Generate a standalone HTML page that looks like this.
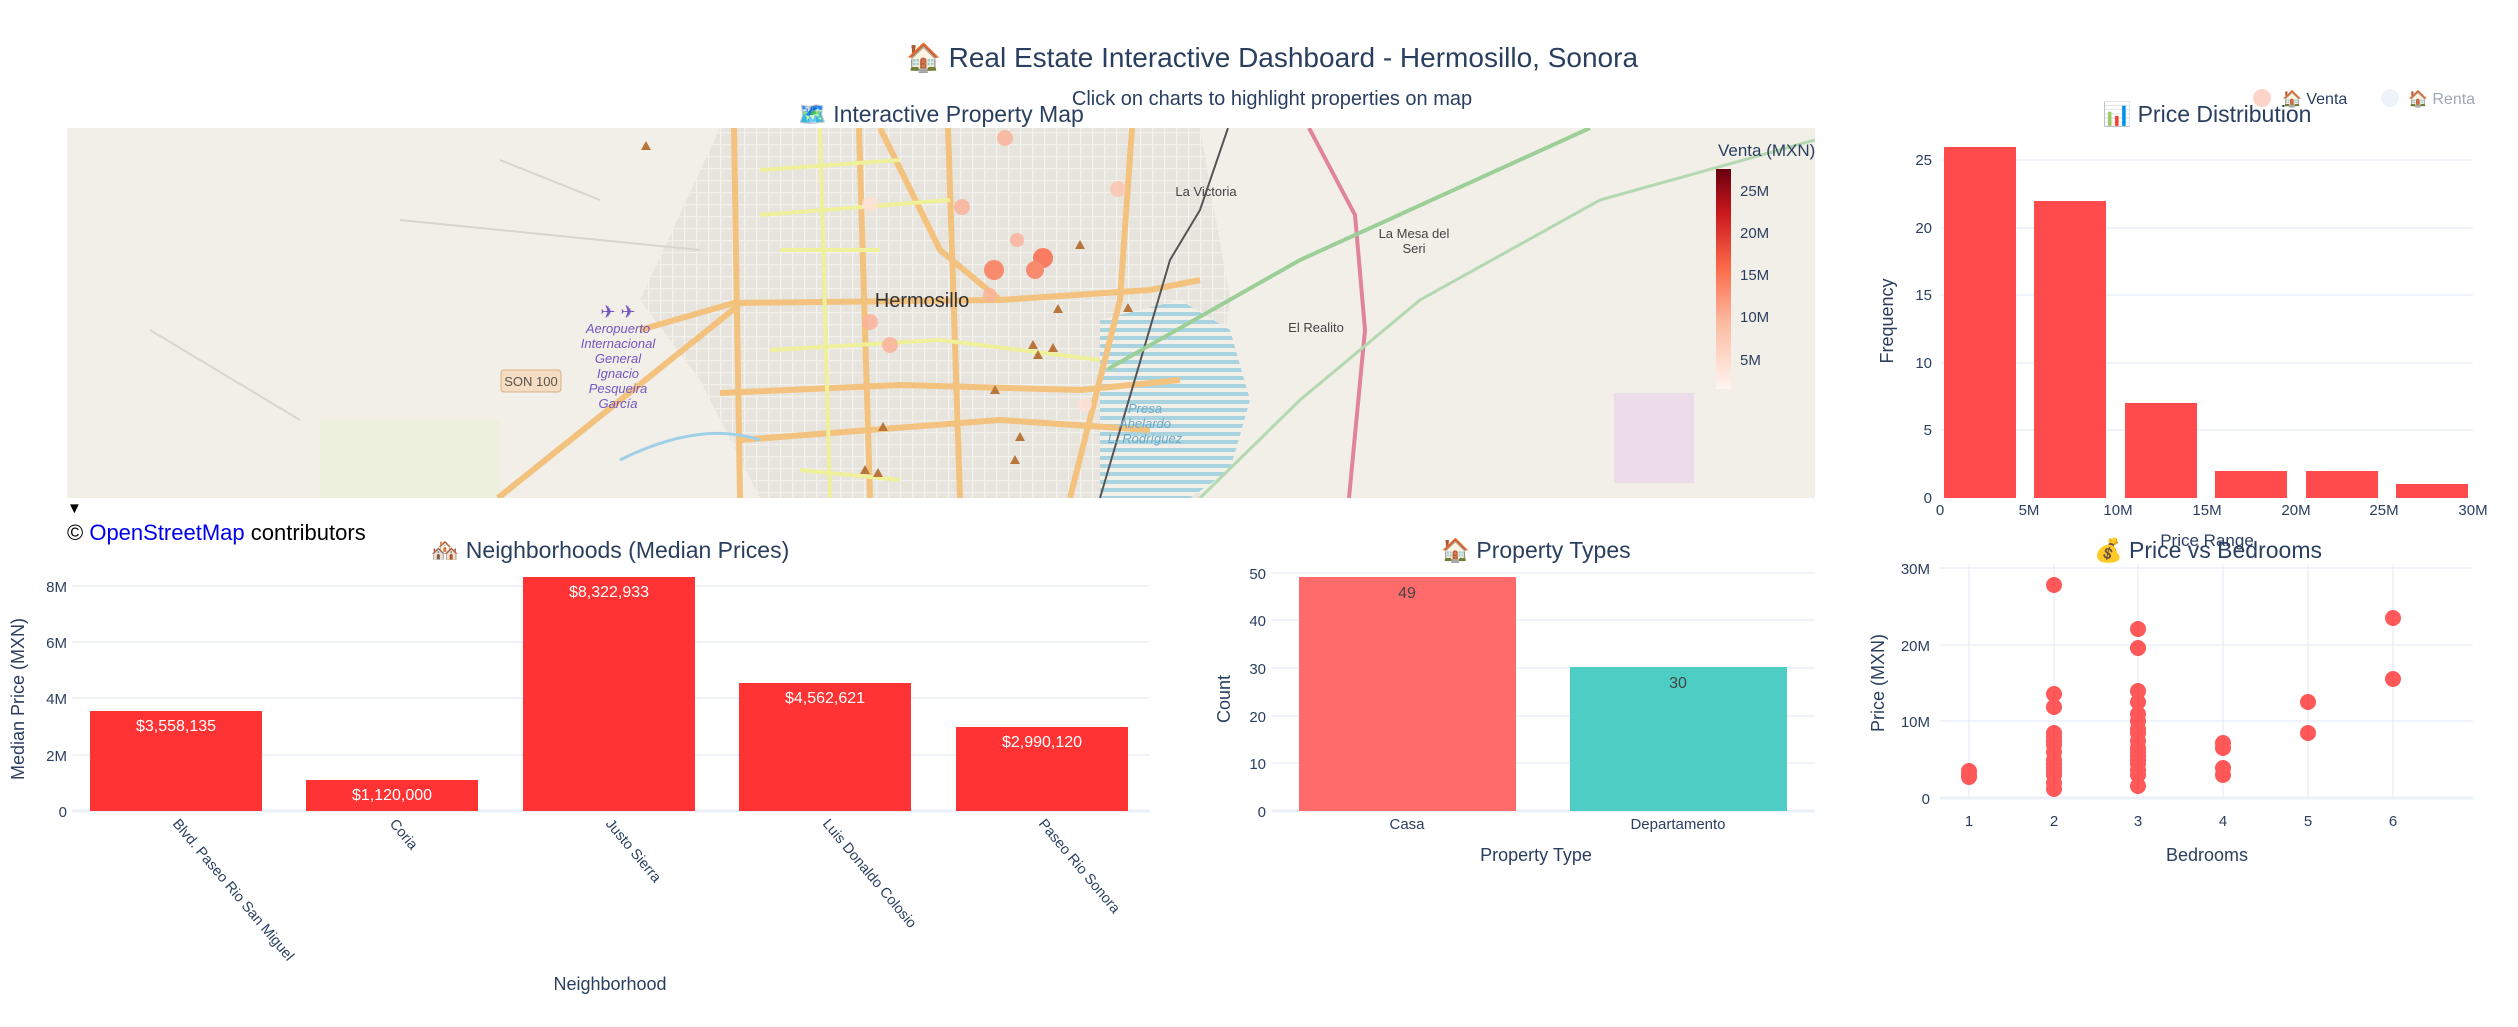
<!DOCTYPE html>
<html><head><meta charset="utf-8"><style>
html,body{margin:0;padding:0;background:#fff;}
svg{display:block;font-family:"Liberation Sans","DejaVu Sans",sans-serif;}
</style></head><body>
<svg width="2518" height="1027" viewBox="0 0 2518 1027" xmlns="http://www.w3.org/2000/svg">
<rect width="2518" height="1027" fill="#fff"/>
<!-- Titles -->
<text x="1272" y="67" font-size="28" fill="#2a3f5f" text-anchor="middle">🏠 Real Estate Interactive Dashboard - Hermosillo, Sonora</text>
<text x="1272" y="105" font-size="20" fill="#2a3f5f" text-anchor="middle">Click on charts to highlight properties on map</text>
<text x="941" y="122" font-size="23" fill="#2a3f5f" text-anchor="middle">🗺️ Interactive Property Map</text>
<text x="2207" y="122" font-size="23" fill="#2a3f5f" text-anchor="middle">📊 Price Distribution</text>
<!-- Legend -->
<circle cx="2262" cy="98" r="9" fill="#fcd5c8"/>
<text x="2282" y="104" font-size="16" fill="#2a3f5f">🏠 Venta</text>
<circle cx="2390" cy="98" r="9" fill="#eef3f9"/>
<text x="2408" y="104" font-size="16" fill="#a0a8b4">🏠 Renta</text>

<!-- MAP -->
<defs><clipPath id="mc"><rect x="67" y="128" width="1748" height="370"/></clipPath>
<pattern id="hatch" width="12" height="8" patternUnits="userSpaceOnUse"><rect width="12" height="8" fill="#f2efe9"/><rect width="12" height="4" fill="#a9d3df"/></pattern>
<pattern id="grid" width="12" height="12" patternUnits="userSpaceOnUse"><rect width="12" height="12" fill="#e0dcd6"/><path d="M0 0H12M0 0V12" stroke="#f4f2ee" stroke-width="2.5"/></pattern>
<linearGradient id="cb" x1="0" y1="1" x2="0" y2="0"><stop offset="0" stop-color="#fff5f0"/><stop offset="0.3" stop-color="#fcbba1"/><stop offset="0.55" stop-color="#fb6a4a"/><stop offset="0.8" stop-color="#cb181d"/><stop offset="1" stop-color="#67000d"/></linearGradient></defs>
<g clip-path="url(#mc)">
<rect x="67" y="128" width="1748" height="370" fill="#f2efe9"/>
<path d="M720 128 L1200 128 L1230 300 L1200 498 L760 498 L700 380 L640 300 Z" fill="url(#grid)" opacity="0.6"/>
<path d="M1100 320 L1180 300 L1230 330 L1250 400 L1230 470 L1190 498 L1100 498 Z" fill="url(#hatch)"/>
<rect x="1614" y="393" width="80" height="90" fill="#ecdce9"/>
<rect x="320" y="420" width="180" height="78" fill="#ecf1d8" opacity="0.7"/>
<!-- roads -->
<g stroke="#f3c27e" stroke-width="6" fill="none">
<path d="M734 128 L740 498"/><path d="M859 128 L870 498"/><path d="M948 128 L960 498"/><path d="M1132 128 L1120 300 L1070 498"/>
<path d="M640 330 L734 303 L1000 300 L1150 290 L1200 280"/>
<path d="M720 393 L900 385 L1080 390 L1180 380"/>
<path d="M740 440 L1000 420 L1150 430"/>
<path d="M498 498 L739 305"/>
<path d="M880 128 L940 250 L1000 300"/>
</g>
<g stroke="#eef09a" stroke-width="4" fill="none">
<path d="M760 170 L900 160"/><path d="M760 215 L950 200"/><path d="M780 250 L880 250"/><path d="M770 350 L940 340 L1100 360"/><path d="M800 470 L900 480"/><path d="M820 128 L830 498"/>
</g>
<path d="M1228 128 L1200 210 L1170 260 L1100 498" stroke="#555" stroke-width="2" fill="none"/>
<path d="M1309 128 L1355 215 L1365 330 L1349 498" stroke="#e0849a" stroke-width="4" fill="none"/>
<path d="M1108 369 L1300 260 L1590 128" stroke="#9ccf98" stroke-width="4" fill="none"/>
<path d="M1200 498 L1300 400 L1420 300 L1600 200 L1815 140" stroke="#b4d8b0" stroke-width="3" fill="none"/>
<path d="M400 220 L700 250 M150 330 L300 420 M500 160 L600 200" stroke="#d9d4cc" stroke-width="2" fill="none"/>
<path d="M620 460 Q700 420 760 440" stroke="#9fd0e8" stroke-width="3" fill="none"/>
<!-- labels -->
<text x="922" y="307" font-size="20" fill="#333" text-anchor="middle">Hermosillo</text>
<text x="1206" y="196" font-size="13" fill="#444" text-anchor="middle">La Victoria</text>
<text x="1414" y="238" font-size="13" fill="#444" text-anchor="middle">La Mesa del</text>
<text x="1414" y="253" font-size="13" fill="#444" text-anchor="middle">Seri</text>
<text x="1316" y="332" font-size="13" fill="#444" text-anchor="middle">El Realito</text>
<rect x="501" y="370" width="60" height="22" rx="3" fill="#f6dcc0" stroke="#d8b08a"/>
<text x="531" y="386" font-size="13" fill="#555" text-anchor="middle">SON 100</text>
<g font-size="13" fill="#7455c0" font-style="italic" text-anchor="middle">
<text x="618" y="333">Aeropuerto</text><text x="618" y="348">Internacional</text><text x="618" y="363">General</text><text x="618" y="378">Ignacio</text><text x="618" y="393">Pesqueira</text><text x="618" y="408">García</text>
<text x="1145" y="413" fill="#6aaac8">Presa</text><text x="1145" y="428" fill="#6aaac8">Abelardo</text><text x="1145" y="443" fill="#6aaac8">L. Rodríguez</text>
</g>
<text x="618" y="318" font-size="18" fill="#7455c0" text-anchor="middle">✈ ✈</text>
<!-- markers -->
<g fill="#fbb39a" opacity="0.85">
<circle cx="1005" cy="138" r="8"/><circle cx="1118" cy="189" r="8" fill="#fcc5b0"/><circle cx="870" cy="204" r="8" fill="#fde0d5"/><circle cx="962" cy="207" r="8"/>
<circle cx="1017" cy="240" r="7"/><circle cx="994" cy="270" r="10" fill="#fb7b5b"/><circle cx="1043" cy="258" r="10" fill="#fb6a4a"/><circle cx="1035" cy="270" r="9" fill="#fb7b5b"/>
<circle cx="870" cy="322" r="8"/><circle cx="890" cy="345" r="8"/><circle cx="1085" cy="405" r="7" fill="#fde0d5"/><circle cx="990" cy="295" r="7"/>
</g>
<g fill="#b8763a">
<path d="M646 141 l5 9 h-10z"/><path d="M1080 240 l5 9 h-10z"/><path d="M1058 304 l5 9 h-10z"/><path d="M1128 303 l5 9 h-10z"/><path d="M1033 340 l5 9 h-10z"/><path d="M1053 343 l5 9 h-10z"/><path d="M1038 350 l5 9 h-10z"/><path d="M995 385 l5 9 h-10z"/><path d="M1020 432 l5 9 h-10z"/><path d="M883 422 l5 9 h-10z"/><path d="M865 465 l5 9 h-10z"/><path d="M878 468 l5 9 h-10z"/><path d="M1015 455 l5 9 h-10z"/>
</g>
</g>
<!-- colorbar -->
<text x="1718" y="156" font-size="17" fill="#2a3f5f">Venta (MXN)</text>
<rect x="1716" y="169" width="15" height="220" fill="url(#cb)"/>
<g font-size="15" fill="#2a3f5f"><text x="1740" y="196">25M</text><text x="1740" y="238">20M</text><text x="1740" y="280">15M</text><text x="1740" y="322">10M</text><text x="1740" y="365">5M</text></g>
<text x="67" y="513" font-size="15" fill="#000">▼</text>
<text x="67" y="540" font-size="22" fill="#000">© <tspan fill="#0000ee">OpenStreetMap</tspan> contributors</text>

<!-- PRICE DISTRIBUTION -->
<g stroke="#ebf0f8" stroke-width="1.5"><line x1="1940" x2="2473" y1="160" y2="160"/><line x1="1940" x2="2473" y1="228" y2="228"/><line x1="1940" x2="2473" y1="295" y2="295"/><line x1="1940" x2="2473" y1="363" y2="363"/><line x1="1940" x2="2473" y1="430" y2="430"/></g>
<g fill="#ff4b4b">
<rect x="1944" y="147" width="72" height="351"/><rect x="2034" y="201" width="72" height="297"/><rect x="2125" y="403" width="72" height="95"/><rect x="2215" y="471" width="72" height="27"/><rect x="2306" y="471" width="72" height="27"/><rect x="2396" y="484" width="72" height="14"/>
</g>
<g font-size="15" fill="#2a3f5f" text-anchor="end"><text x="1932" y="165">25</text><text x="1932" y="233">20</text><text x="1932" y="300">15</text><text x="1932" y="368">10</text><text x="1932" y="435">5</text><text x="1932" y="503">0</text></g>
<g font-size="15" fill="#2a3f5f" text-anchor="middle"><text x="1940" y="515">0</text><text x="2029" y="515">5M</text><text x="2118" y="515">10M</text><text x="2207" y="515">15M</text><text x="2296" y="515">20M</text><text x="2384" y="515">25M</text><text x="2473" y="515">30M</text></g>
<text x="1893" y="321" font-size="18" fill="#2a3f5f" text-anchor="middle" transform="rotate(-90 1893 321)">Frequency</text>
<text x="2207" y="546" font-size="17" fill="#2a3f5f" text-anchor="middle">Price Range</text>

<!-- NEIGHBORHOODS -->
<text x="610" y="558" font-size="23" fill="#2a3f5f" text-anchor="middle">🏘️ Neighborhoods (Median Prices)</text>
<g stroke="#ebf0f8" stroke-width="1.5"><line x1="72" x2="1150" y1="586" y2="586"/><line x1="72" x2="1150" y1="642" y2="642"/><line x1="72" x2="1150" y1="698" y2="698"/><line x1="72" x2="1150" y1="755" y2="755"/><line x1="72" x2="1150" y1="811" y2="811" stroke-width="3"/></g>
<g fill="#ff3333">
<rect x="90" y="711" width="172" height="100"/><rect x="306" y="780" width="172" height="31"/><rect x="523" y="577" width="172" height="234"/><rect x="739" y="683" width="172" height="128"/><rect x="956" y="727" width="172" height="84"/>
</g>
<g font-size="16" fill="#fff" text-anchor="middle"><text x="176" y="731">$3,558,135</text><text x="392" y="800">$1,120,000</text><text x="609" y="597">$8,322,933</text><text x="825" y="703">$4,562,621</text><text x="1042" y="747">$2,990,120</text></g>
<g font-size="15" fill="#2a3f5f" text-anchor="end"><text x="67" y="592">8M</text><text x="67" y="648">6M</text><text x="67" y="704">4M</text><text x="67" y="761">2M</text><text x="67" y="817">0</text></g>
<g font-size="14.5" fill="#2a3f5f">
<text transform="translate(172 824) rotate(50)">Blvd. Paseo Rio San Miguel</text>
<text transform="translate(389 824) rotate(50)">Coria</text>
<text transform="translate(605 824) rotate(50)">Justo Sierra</text>
<text transform="translate(822 824) rotate(50)">Luis Donaldo Colosio</text>
<text transform="translate(1038 824) rotate(50)">Paseo Rio Sonora</text>
</g>
<text x="24" y="699" font-size="18" fill="#2a3f5f" text-anchor="middle" transform="rotate(-90 24 699)">Median Price (MXN)</text>
<text x="610" y="990" font-size="18" fill="#2a3f5f" text-anchor="middle">Neighborhood</text>

<!-- PROPERTY TYPES -->
<text x="1536" y="558" font-size="23" fill="#2a3f5f" text-anchor="middle">🏠 Property Types</text>
<g stroke="#ebf0f8" stroke-width="1.5"><line x1="1272" x2="1815" y1="573" y2="573"/><line x1="1272" x2="1815" y1="620" y2="620"/><line x1="1272" x2="1815" y1="668" y2="668"/><line x1="1272" x2="1815" y1="716" y2="716"/><line x1="1272" x2="1815" y1="763" y2="763"/><line x1="1272" x2="1815" y1="811" y2="811" stroke-width="3"/></g>
<rect x="1299" y="577" width="217" height="234" fill="#ff6b6b"/>
<rect x="1570" y="667" width="217" height="144" fill="#4ecdc4"/>
<text x="1407" y="598" font-size="16" fill="#444" text-anchor="middle">49</text>
<text x="1678" y="688" font-size="16" fill="#444" text-anchor="middle">30</text>
<g font-size="15" fill="#2a3f5f" text-anchor="end"><text x="1266" y="579">50</text><text x="1266" y="626">40</text><text x="1266" y="674">30</text><text x="1266" y="722">20</text><text x="1266" y="769">10</text><text x="1266" y="817">0</text></g>
<g font-size="15" fill="#2a3f5f" text-anchor="middle"><text x="1407" y="829">Casa</text><text x="1678" y="829">Departamento</text></g>
<text x="1230" y="699" font-size="18" fill="#2a3f5f" text-anchor="middle" transform="rotate(-90 1230 699)">Count</text>
<text x="1536" y="861" font-size="18" fill="#2a3f5f" text-anchor="middle">Property Type</text>

<!-- SCATTER -->
<text x="2208" y="558" font-size="23" fill="#2a3f5f" text-anchor="middle">💰 Price vs Bedrooms</text>
<g stroke="#ebf0f8" stroke-width="1.5"><line x1="1940" x2="2473" y1="568" y2="568"/><line x1="1940" x2="2473" y1="645" y2="645"/><line x1="1940" x2="2473" y1="721" y2="721"/>
<line x1="1969" x2="1969" y1="565" y2="798"/><line x1="2054" x2="2054" y1="565" y2="798"/><line x1="2138" x2="2138" y1="565" y2="798"/><line x1="2223" x2="2223" y1="565" y2="798"/><line x1="2308" x2="2308" y1="565" y2="798"/><line x1="2393" x2="2393" y1="565" y2="798"/>
<line x1="1940" x2="2473" y1="798" y2="798" stroke-width="3"/></g>
<g fill="#ff0000" opacity="0.65">
<circle cx="1969" cy="775" r="8"/><circle cx="1969" cy="771" r="8"/><circle cx="1969" cy="777" r="8"/>
<circle cx="2054" cy="585" r="8"/><circle cx="2054" cy="694" r="8"/><circle cx="2054" cy="707" r="8"/><circle cx="2054" cy="733" r="8"/><circle cx="2054" cy="737" r="8"/><circle cx="2054" cy="741" r="8"/><circle cx="2054" cy="745" r="8"/><circle cx="2054" cy="752" r="8"/><circle cx="2054" cy="760" r="8"/><circle cx="2054" cy="764" r="8"/><circle cx="2054" cy="768" r="8"/><circle cx="2054" cy="771" r="8"/><circle cx="2054" cy="775" r="8"/><circle cx="2054" cy="783" r="8"/><circle cx="2054" cy="789" r="8"/>
<circle cx="2138" cy="629" r="8"/><circle cx="2138" cy="648" r="8"/><circle cx="2138" cy="691" r="8"/><circle cx="2138" cy="702" r="8"/><circle cx="2138" cy="714" r="8"/><circle cx="2138" cy="721" r="8"/><circle cx="2138" cy="729" r="8"/><circle cx="2138" cy="733" r="8"/><circle cx="2138" cy="741" r="8"/><circle cx="2138" cy="748" r="8"/><circle cx="2138" cy="752" r="8"/><circle cx="2138" cy="756" r="8"/><circle cx="2138" cy="760" r="8"/><circle cx="2138" cy="764" r="8"/><circle cx="2138" cy="770" r="8"/><circle cx="2138" cy="775" r="8"/><circle cx="2138" cy="786" r="8"/>
<circle cx="2223" cy="743" r="8"/><circle cx="2223" cy="748" r="8"/><circle cx="2223" cy="768" r="8"/><circle cx="2223" cy="775" r="8"/>
<circle cx="2308" cy="702" r="8"/><circle cx="2308" cy="733" r="8"/>
<circle cx="2393" cy="618" r="8"/><circle cx="2393" cy="679" r="8"/>
</g>
<g font-size="15" fill="#2a3f5f" text-anchor="end"><text x="1930" y="574">30M</text><text x="1930" y="651">20M</text><text x="1930" y="727">10M</text><text x="1930" y="804">0</text></g>
<g font-size="15" fill="#2a3f5f" text-anchor="middle"><text x="1969" y="826">1</text><text x="2054" y="826">2</text><text x="2138" y="826">3</text><text x="2223" y="826">4</text><text x="2308" y="826">5</text><text x="2393" y="826">6</text></g>
<text x="1884" y="683" font-size="18" fill="#2a3f5f" text-anchor="middle" transform="rotate(-90 1884 683)">Price (MXN)</text>
<text x="2207" y="861" font-size="18" fill="#2a3f5f" text-anchor="middle">Bedrooms</text>
</svg>
</body></html>
